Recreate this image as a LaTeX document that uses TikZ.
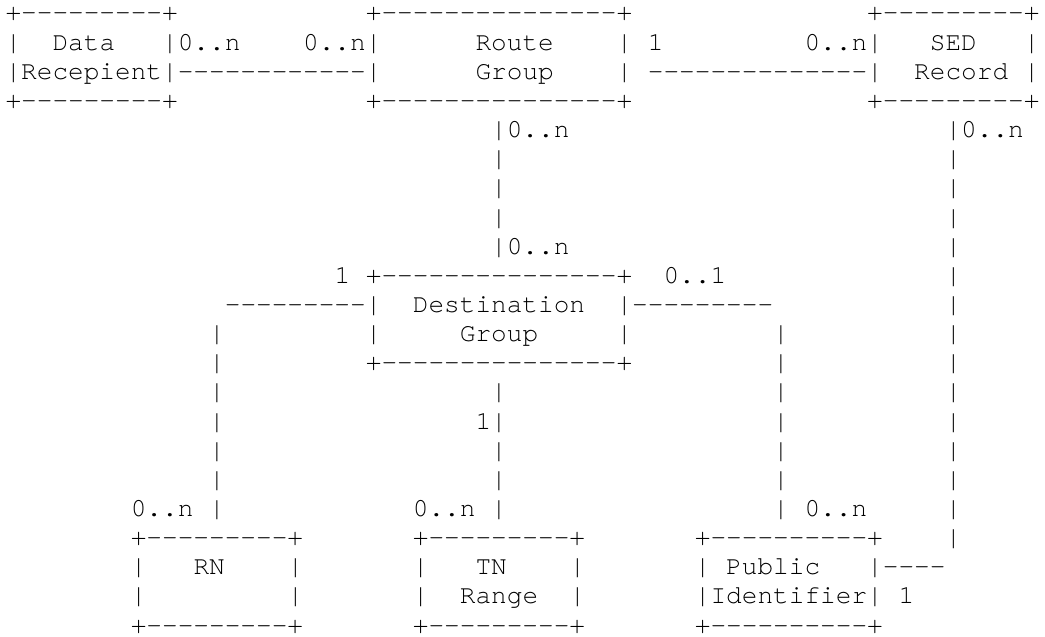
\documentclass[tikz,border=0pt]{standalone}
\usepackage{fontspec}
\newfontfamily\asciifont{texgyrecursor-regular.otf}

% one character per fixed-width cell
\newlength\cellw
\setlength\cellw{15.67pt}
\def\cells#1{\cellsX#1\relax}
\def\cellsX#1{\ifx\relax#1\else\makebox[\cellw]{#1}\expandafter\cellsX\fi}

\tikzset{ascii/.style={anchor=base west, inner sep=0pt, outer sep=0pt,
    font={\asciifont\fontsize{26.1pt}{29pt}\selectfont}}}

\begin{document}
\begin{tikzpicture}[x=15.67pt, y=-29.15pt]
    \fill[white] (-5.5pt,-8.15pt) rectangle (1039.7pt,-645.15pt);

    % top row of boxes
    \node[ascii] (dataTop) at (0,1) {\cells{+---------+}};
    \node[ascii] (routeTop) at (23,1) {\cells{+---------------+}};
    \node[ascii] (sedTop) at (55,1) {\cells{+---------+}};

    \node[ascii] (dataL) at (0,2) {\cells{|}};
    \node[ascii] (dataTxt) at (3,2) {\cells{Data}};
    \node[ascii] (drMulA) at (10,2) {\cells{|0..n}};
    \node[ascii] (drMulB) at (19,2) {\cells{0..n|}};
    \node[ascii] (routeTxt) at (30,2) {\cells{Route}};
    \node[ascii] (routeR) at (39,2) {\cells{|}};
    \node[ascii] (rsMulA) at (41,2) {\cells{1}};
    \node[ascii] (rsMulB) at (51,2) {\cells{0..n|}};
    \node[ascii] (sedTxt) at (59,2) {\cells{SED}};
    \node[ascii] (sedR) at (65,2) {\cells{|}};

    \node[ascii] (dataTxtB) at (0,3) {\cells{|Recepient|------------|}};
    \node[ascii] (routeTxtB) at (30,3) {\cells{Group}};
    \node[ascii] (routeRB) at (39,3) {\cells{|}};
    \node[ascii] (rsLink) at (41,3) {\cells{--------------|}};
    \node[ascii] (sedTxtB) at (58,3) {\cells{Record}};
    \node[ascii] (sedRB) at (65,3) {\cells{|}};

    \node[ascii] (dataBot) at (0,4) {\cells{+---------+}};
    \node[ascii] (routeBot) at (23,4) {\cells{+---------------+}};
    \node[ascii] (sedBot) at (55,4) {\cells{+---------+}};

    % route group -- destination group
    \node[ascii] (rdMulA) at (31,5) {\cells{|0..n}};
    \node[ascii] (seMulA) at (60,5) {\cells{|0..n}};
    \foreach \r in {6,7,8}
        \node[ascii] (rdLink\r) at (31,\r) {\cells{|}};
    \node[ascii] (rdMulB) at (31,9) {\cells{|0..n}};
    \foreach \r in {6,...,19}
        \node[ascii] (seLink\r) at (60,\r) {\cells{|}};

    % destination group
    \node[ascii] (dgMulL) at (21,10) {\cells{1}};
    \node[ascii] (destTop) at (23,10) {\cells{+---------------+}};
    \node[ascii] (dgMulR) at (42,10) {\cells{0..1}};

    \node[ascii] (rnArm) at (14,11) {\cells{---------|}};
    \node[ascii] (destTxt) at (26,11) {\cells{Destination}};
    \node[ascii] (piArm) at (39,11) {\cells{|---------}};

    \node[ascii] (destL) at (23,12) {\cells{|}};
    \node[ascii] (destTxtB) at (29,12) {\cells{Group}};
    \node[ascii] (destR) at (39,12) {\cells{|}};

    \node[ascii] (destBot) at (23,13) {\cells{+---------------+}};

    \foreach \r in {12,...,17} {
        \node[ascii] (rnLink\r) at (13,\r) {\cells{|}};
        \node[ascii] (piLink\r) at (49,\r) {\cells{|}};
    }
    \foreach \r in {14,16,17}
        \node[ascii] (tnLink\r) at (31,\r) {\cells{|}};
    \node[ascii] (tnMulA) at (30,15) {\cells{1|}};

    % bottom row of boxes
    \node[ascii] (rnMul) at (8,18) {\cells{0..n}};
    \node[ascii] (rnLink18) at (13,18) {\cells{|}};
    \node[ascii] (tnMulB) at (26,18) {\cells{0..n}};
    \node[ascii] (tnLink18) at (31,18) {\cells{|}};
    \node[ascii] (piLink18) at (49,18) {\cells{|}};
    \node[ascii] (piMul) at (51,18) {\cells{0..n}};

    \node[ascii] (rnTop) at (8,19) {\cells{+---------+}};
    \node[ascii] (tnTop) at (26,19) {\cells{+---------+}};
    \node[ascii] (piTop) at (44,19) {\cells{+----------+}};

    \node[ascii] (rnL) at (8,20) {\cells{|}};
    \node[ascii] (rnTxt) at (12,20) {\cells{RN}};
    \node[ascii] (rnR) at (18,20) {\cells{|}};
    \node[ascii] (tnL) at (26,20) {\cells{|}};
    \node[ascii] (tnTxt) at (30,20) {\cells{TN}};
    \node[ascii] (tnR) at (36,20) {\cells{|}};
    \node[ascii] (piL) at (44,20) {\cells{|}};
    \node[ascii] (piTxt) at (46,20) {\cells{Public}};
    \node[ascii] (seArm) at (55,20) {\cells{|----}};

    \node[ascii] (rnLB) at (8,21) {\cells{|}};
    \node[ascii] (rnRB) at (18,21) {\cells{|}};
    \node[ascii] (tnLB) at (26,21) {\cells{|}};
    \node[ascii] (tnTxtB) at (29,21) {\cells{Range}};
    \node[ascii] (tnRB) at (36,21) {\cells{|}};
    \node[ascii] (piTxtB) at (44,21) {\cells{|Identifier|}};
    \node[ascii] (seMulB) at (57,21) {\cells{1}};

    \node[ascii] (rnBot) at (8,22) {\cells{+---------+}};
    \node[ascii] (tnBot) at (26,22) {\cells{+---------+}};
    \node[ascii] (piBot) at (44,22) {\cells{+----------+}};
\end{tikzpicture}
\end{document}
